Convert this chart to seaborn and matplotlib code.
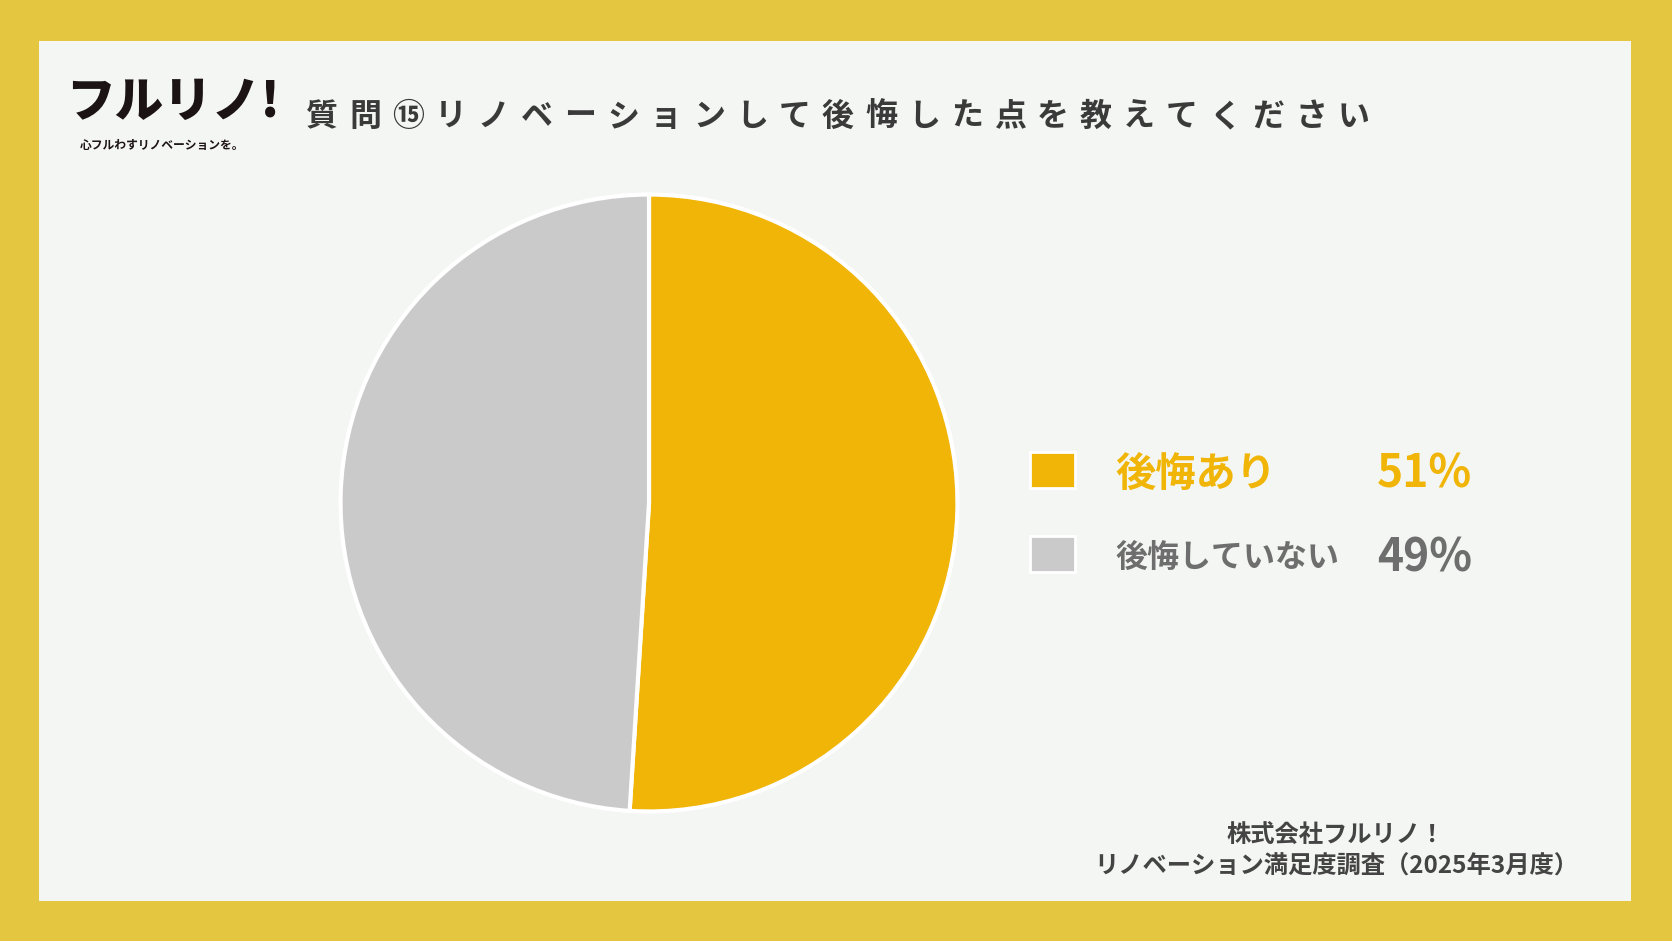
import matplotlib.pyplot as plt
import seaborn as sns
from matplotlib.patches import Rectangle

# Data
labels = ["後悔あり", "後悔していない"]
shares = [51, 49]
colors = ["#F0B507", "#CBCACB"]
text_colors = ["#F0B507", "#6E6E6E"]

title = "質問⑮リノベーションして後悔した点を教えてください"
footer = "株式会社フルリノ！\nリノベーション満足度調査（2025年3月度）"

sns.set_theme(style="white")
plt.rcParams["font.family"] = ["Noto Sans CJK JP", "DejaVu Sans"]

W, H = 1672, 941
fig = plt.figure(figsize=(W / 100, H / 100), dpi=100)
fig.patch.set_facecolor("#E5C640")


def fx(x):
    return x / W


def fy(y):
    return 1 - y / H


# card background
fig.patches.append(Rectangle((fx(39), fy(901)), fx(1631) - fx(39), fy(41) - fy(901),
                             transform=fig.transFigure, facecolor="#F4F6F3",
                             edgecolor="none", zorder=-5))

# pie
ax = fig.add_axes([fx(339), fy(813), 620 / W, 620 / H])
ax.set_zorder(3)
ax.patch.set_alpha(0)
ax.pie(shares, colors=colors, startangle=90, counterclock=False, radius=1,
       wedgeprops=dict(edgecolor="white", linewidth=3))
ax.set_xlim(-1.005, 1.005)
ax.set_ylim(-1.005, 1.005)
ax.set_aspect("equal")
ax.axis("off")

# logo
fig.text(fx(66), fy(103), "フルリノ!", fontsize=35, fontweight="heavy",
         color="#1C1414", ha="left", va="center")
fig.text(fx(80), fy(145), "心フルわすリノベーションを。", fontsize=8.5,
         fontweight="bold", color="#1C1414", ha="left", va="center")

# title with wide letter spacing
step = 43
for i, ch in enumerate(title):
    fig.text(fx(306 + i * step), fy(117), ch, fontsize=23, fontweight="bold",
             color="#3A3A3A", ha="left", va="center")

# legend
rows_y = [470, 554]
label_sizes = [29, 23]
for lab, val, c, tc, y, fs in zip(labels, shares, colors, text_colors, rows_y, label_sizes):
    fig.patches.append(Rectangle((fx(1030), fy(y + 18)), 45 / W, 36 / H,
                                 transform=fig.transFigure, facecolor=c,
                                 edgecolor="white", linewidth=2, zorder=1))
    fig.text(fx(1115), fy(y + 4), lab, fontsize=fs, fontweight="bold", color=tc,
             ha="left", va="center")
    fig.text(fx(1472), fy(y + 4), f"{val}%", fontsize=32, fontweight="bold", color=tc,
             ha="right", va="center")

# footer
fig.text(fx(1336), fy(851), footer, fontsize=17.5, fontweight="bold", color="#444444",
         ha="center", va="center", multialignment="center", linespacing=1.4)

fig.savefig("out.png", dpi=100, facecolor=fig.get_facecolor())
